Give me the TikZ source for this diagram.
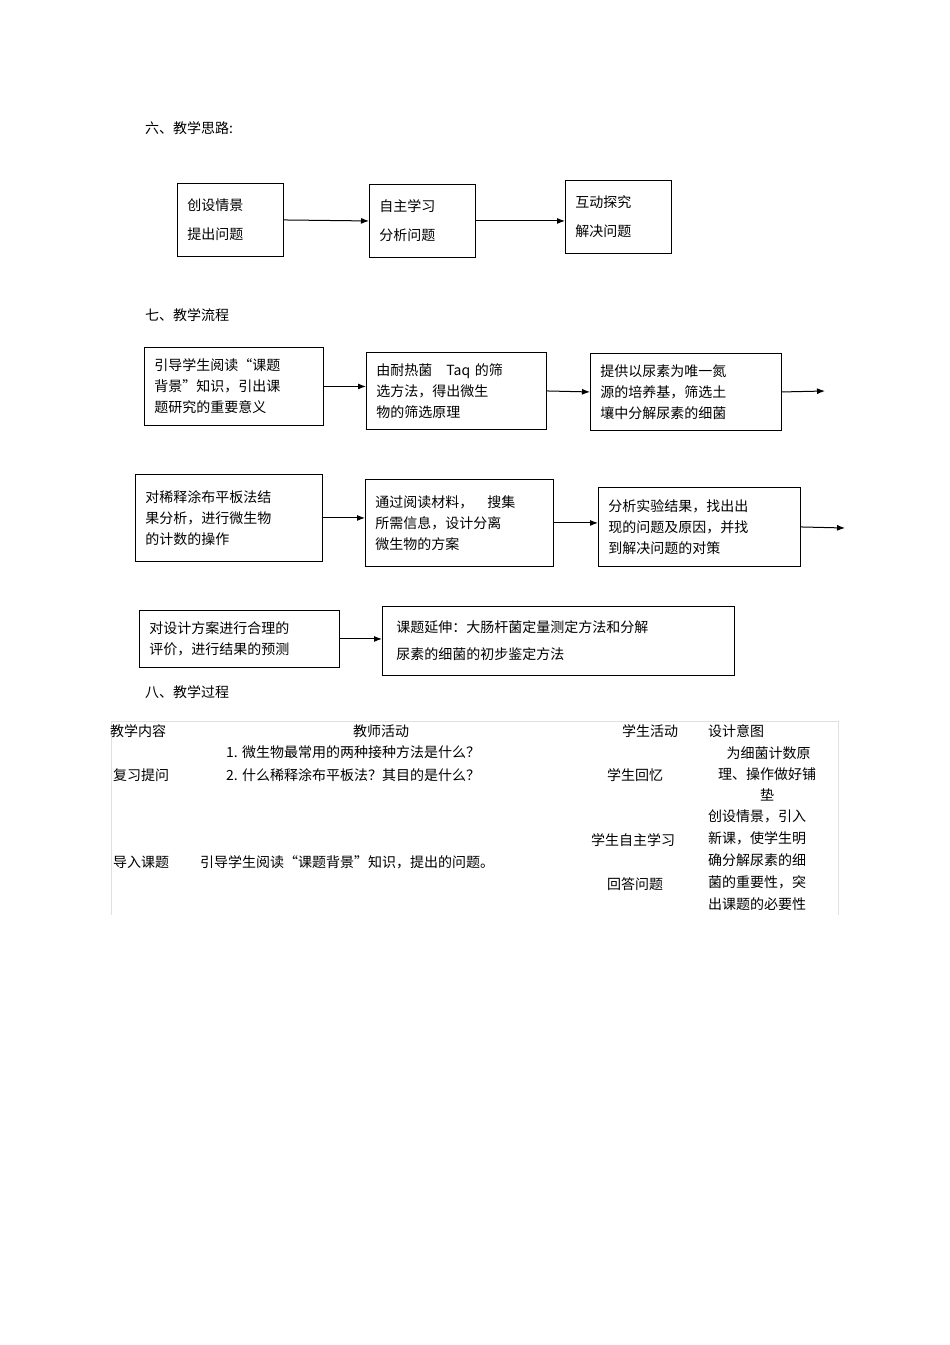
\documentclass[tikz,border=0pt]{standalone}
\usepackage{fontspec}
\setmainfont{Liberation Sans}
\newfontfamily\cjk{Noto Sans CJK SC}
\usetikzlibrary{arrows.meta}
\begin{document}
\begin{tikzpicture}[x=1pt,y=-1pt,
  every node/.style={font=\cjk\fontsize{14}{21}\selectfont, inner sep=0pt},
  box/.style={draw, line width=0.9pt, align=left, anchor=north west, inner xsep=10pt},
  conn/.style={-{Latex[length=8pt,width=6pt]}, line width=1pt},
  tbl/.style={draw=black!12, line width=0.6pt},
  t/.style={anchor=west}]
\useasboundingbox (0,0) rectangle (950,1345);
% headings
\node[t] (h6) at (145,128) {六、教学思路:};
\node[t] (h7) at (145,315) {七、教学流程};
\node[t] (h8) at (145,692) {八、教学过程};
% row A
\node[box, minimum width=106pt, minimum height=73pt, text width=86pt] (a1) at (177,183) {创设情景\\[8pt]提出问题};
\node[box, minimum width=106pt, minimum height=73pt, text width=86pt] (a2) at (369,184) {自主学习\\[8pt]分析问题};
\node[box, minimum width=106pt, minimum height=73pt, text width=86pt] (a3) at (565,180) {互动探究\\[8pt]解决问题};
\draw[conn] (a1.east) -- (a2.west);
\draw[conn] (a2.east) -- (a2.east -| a3.west);
% row B
\node[box, minimum width=179pt, minimum height=78pt, text width=159pt] (b1) at (144,347) {引导学生阅读“课题\\背景”知识，引出课\\题研究的重要意义};
\node[box, minimum width=180pt, minimum height=77pt, text width=160pt] (b2) at (366,352) {由耐热菌\enspace\ \,Taq 的筛\\选方法，得出微生\\物的筛选原理};
\node[box, minimum width=191pt, minimum height=77pt, text width=171pt] (b3) at (590,353) {提供以尿素为唯一氮\\源的培养基，筛选土\\壤中分解尿素的细菌};
\coordinate (bend) at (825,391);
\draw[conn] (b1.east) -- (b1.east -| b2.west);
\draw[conn] (b2.east) -- (b3.west);
\draw[conn] (b3.east) -- (bend);
% row C
\node[box, minimum width=187pt, minimum height=87pt, text width=167pt] (c1) at (135,474) {对稀释涂布平板法结\\果分析，进行微生物\\的计数的操作};
\node[box, minimum width=188pt, minimum height=87pt, text width=168pt] (c2) at (365,479) {通过阅读材料，\quad 搜集\\所需信息，设计分离\\微生物的方案};
\node[box, minimum width=202pt, minimum height=79pt, text width=182pt] (c3) at (598,487) {分析实验结果，找出出\\现的问题及原因，并找\\到解决问题的对策};
\coordinate (cend) at (845,528);
\draw[conn] (c1.east) -- (c1.east -| c2.west);
\draw[conn] (c2.east) -- (c2.east -| c3.west);
\draw[conn] (c3.east) -- (cend);
% row D
\node[box, minimum width=200pt, minimum height=57pt, text width=180pt] (d1) at (139,610) {对设计方案进行合理的\\评价，进行结果的预测};
\node[box, minimum width=344pt, minimum height=69pt, text width=324pt, inner xsep=14pt] (d2) at (382,606) {课题延伸：大肠杆菌定量测定方法和分解\\[6pt]尿素的细菌的初步鉴定方法};
\draw[conn] (d1.east) -- (d1.east -| d2.west);
% table
\draw[tbl] (111,915) -- (111,721) -- (838,721) -- (838,915);
\node[t] (th1) at (110,731) {教学内容};
\node (th2) at (381,731) {教师活动};
\node (th3) at (650,731) {学生活动};
\node[t] (th4) at (708,731) {设计意图};
\node[t] (q1) at (226,752) {1. 微生物最常用的两种接种方法是什么？};
\node[t] (q2) at (226,775) {2. 什么稀释涂布平板法？其目的是什么？};
\node[t] (r1) at (113,775) {复习提问};
\node (s1) at (635,775) {学生回忆};
\node[align=center] (p1) at (767,774) {\ 为细菌计数原\\理、操作做好铺\\垫};
\node[t] (r2) at (113,862) {导入课题};
\node[t] (q3) at (200,862) {引导学生阅读“课题背景”知识，提出的问题。};
\node (s2) at (633,840) {学生自主学习};
\node (s3) at (635,884) {回答问题};
\node[anchor=north west, align=left, font=\cjk\fontsize{14}{22}\selectfont] (p2) at (708,810) {创设情景，引入\\新课，使学生明\\确分解尿素的细\\菌的重要性，突\\出课题的必要性};
\end{tikzpicture}
\end{document}
